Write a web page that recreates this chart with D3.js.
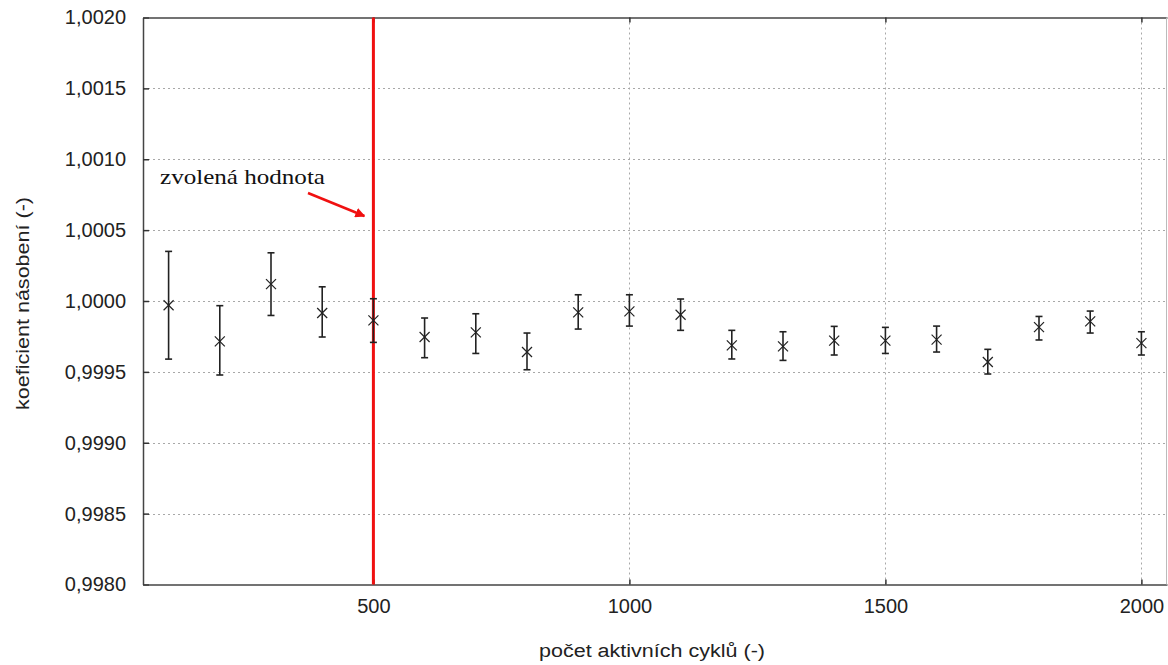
<!DOCTYPE html>
<html>
<head>
<meta charset="utf-8">
<script src="https://cdn.jsdelivr.net/npm/d3@7"></script>
<style>
  html, body { margin: 0; padding: 0; background: #fff; }
  svg { display: block; }
</style>
</head>
<body>
<svg id="chart" width="1168" height="665"></svg>
<script>
// Number of active cycles and the resulting multiplication factor with its uncertainty band
const cycles = [100, 200, 300, 400, 500, 600, 700, 800, 900, 1000,
                1100, 1200, 1300, 1400, 1500, 1600, 1700, 1800, 1900, 2000];
const kValue = [0.99997, 0.999715, 1.000119, 0.999915, 0.999863, 0.999746, 0.999779, 0.99964, 0.99992, 0.999927,
                0.999903, 0.999687, 0.99968, 0.99972, 0.99972, 0.999727, 0.99957, 0.999816, 0.999856, 0.999703];
const kLow   = [0.99959, 0.999478, 0.999898, 0.999746, 0.999708, 0.9996, 0.99963, 0.999515, 0.999802, 0.999823,
                0.999793, 0.999591, 0.999581, 0.999619, 0.99963, 0.99964, 0.999485, 0.999725, 0.999774, 0.999619];
const kHigh  = [1.00035, 0.999967, 1.00034, 1.0001, 1.000016, 0.99988, 0.99991, 0.999774, 1.000044, 1.000044,
                1.000014, 0.999793, 0.999783, 0.999821, 0.999814, 0.999823, 0.999659, 0.999891, 0.999929, 0.999783];

const xTicks = [500, 1000, 1500, 2000];
const yTicks = [0.998, 0.9985, 0.999, 0.9995, 1.0, 1.0005, 1.001, 1.0015, 1.002];
const chosenCycles = 500;
const annotationText = "zvolená hodnota";
const xTitle = "počet aktivních cyklů (-)";
const yTitle = "koeficient násobení (-)";

const svg = d3.select("#chart");
const plotL = 143, plotR = 1167, plotT = 17.5, plotB = 584.5;

const x = d3.scaleLinear().domain([50, 2050]).range([plotL, plotR]);
const y = d3.scaleLinear().domain([0.998, 1.002]).range([plotB, plotT]);

const sansFont = "'Liberation Sans', Arial, Helvetica, sans-serif";

// dotted grid
const grid = svg.append("g").attr("stroke", "#a8a8a8").attr("stroke-width", 1)
  .attr("stroke-dasharray", "2,3");
grid.selectAll("line.h").data(yTicks.slice(1, -1)).join("line").attr("class", "h")
  .attr("x1", plotL).attr("x2", plotR)
  .attr("y1", d => Math.round(y(d)) + 0.5).attr("y2", d => Math.round(y(d)) + 0.5);
grid.selectAll("line.v").data(xTicks).join("line").attr("class", "v")
  .attr("y1", plotT).attr("y2", plotB)
  .attr("x1", d => Math.round(x(d)) + 0.5).attr("x2", d => Math.round(x(d)) + 0.5);

// axes drawn with d3-axis, ticks pointing inward
const fmtY = d => d3.format(".4f")(d).replace(".", ",");
const yAxis = svg.append("g").attr("transform", `translate(${plotL},0)`)
  .call(d3.axisLeft(y).tickValues(yTicks).tickSizeInner(-6).tickSizeOuter(0).tickPadding(17).tickFormat(fmtY));
const xAxis = svg.append("g").attr("transform", `translate(0,${plotB})`)
  .call(d3.axisBottom(x).tickValues(xTicks).tickSizeInner(-5).tickSizeOuter(0).tickPadding(14).tickFormat(d3.format("d")));
const xAxisTop = svg.append("g").attr("transform", `translate(0,${plotT})`)
  .call(d3.axisTop(x).tickValues(xTicks).tickSizeInner(-5).tickSizeOuter(0).tickFormat(""));

[yAxis, xAxis, xAxisTop].forEach(g => {
  g.select(".domain").attr("stroke", "#444").attr("stroke-width", 1.5);
  g.selectAll(".tick line").attr("stroke", "#333").attr("stroke-width", 1.5);
  g.selectAll(".tick text").attr("fill", "#222").attr("font-family", sansFont).attr("font-size", 20);
});

// right frame edge
svg.append("line").attr("x1", plotR - 0.5).attr("x2", plotR - 0.5).attr("y1", plotT).attr("y2", plotB)
  .attr("stroke", "#bbb").attr("stroke-width", 1);

// chosen number of active cycles
svg.append("line")
  .attr("x1", x(chosenCycles)).attr("x2", x(chosenCycles))
  .attr("y1", plotT).attr("y2", plotB)
  .attr("stroke", "#f01010").attr("stroke-width", 3);

// error bars
const bars = svg.append("g").attr("stroke", "#222").attr("stroke-width", 1.6);
cycles.forEach((c, i) => {
  const cx = x(c);
  bars.append("line").attr("x1", cx).attr("x2", cx).attr("y1", y(kLow[i])).attr("y2", y(kHigh[i]));
  bars.append("line").attr("x1", cx - 3.5).attr("x2", cx + 3.5).attr("y1", y(kLow[i])).attr("y2", y(kLow[i]));
  bars.append("line").attr("x1", cx - 3.5).attr("x2", cx + 3.5).attr("y1", y(kHigh[i])).attr("y2", y(kHigh[i]));
});

// point markers (x-shaped)
const marks = svg.append("g").attr("stroke", "#222").attr("stroke-width", 1.2);
cycles.forEach((c, i) => {
  const cx = x(c), cy = y(kValue[i]), r = 5;
  marks.append("line").attr("x1", cx - r).attr("x2", cx + r).attr("y1", cy - r).attr("y2", cy + r);
  marks.append("line").attr("x1", cx - r).attr("x2", cx + r).attr("y1", cy + r).attr("y2", cy - r);
});

// annotation with arrow pointing at the red line
const defs = svg.append("defs");
defs.append("marker").attr("id", "arrowHead").attr("viewBox", "0 0 10 10")
  .attr("refX", 9).attr("refY", 5).attr("markerWidth", 4).attr("markerHeight", 4)
  .attr("orient", "auto").attr("markerUnits", "strokeWidth")
  .append("path").attr("d", "M0,0 L10,5 L0,10 z").attr("fill", "#f01010");

svg.append("text").attr("x", 160).attr("y", 184)
  .attr("font-family", "'Liberation Serif', 'Times New Roman', serif").attr("font-size", 22)
  .attr("fill", "#111").attr("textLength", 165).attr("lengthAdjust", "spacingAndGlyphs")
  .text(annotationText);

svg.append("line").attr("x1", 308).attr("y1", 193).attr("x2", x(chosenCycles) - 9).attr("y2", 216)
  .attr("stroke", "#f01010").attr("stroke-width", 2.5).attr("marker-end", "url(#arrowHead)");

// axis titles
svg.append("text").attr("x", 652).attr("y", 657).attr("text-anchor", "middle")
  .attr("font-family", sansFont).attr("font-size", 18).attr("fill", "#222")
  .attr("textLength", 226).attr("lengthAdjust", "spacingAndGlyphs").text(xTitle);
svg.append("text").attr("transform", "translate(29,303.5) rotate(-90)").attr("text-anchor", "middle")
  .attr("font-family", sansFont).attr("font-size", 18).attr("fill", "#222")
  .attr("textLength", 213).attr("lengthAdjust", "spacingAndGlyphs").text(yTitle);
</script>
</body>
</html>
